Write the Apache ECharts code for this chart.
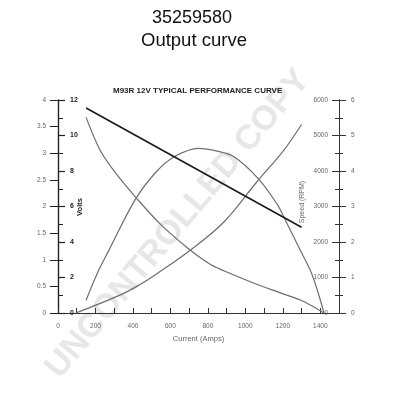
<!DOCTYPE html>
<html><head><meta charset="utf-8">
<script src="https://cdn.jsdelivr.net/npm/echarts@6/dist/echarts.min.js"></script>
<style>html,body{margin:0;padding:0;background:#fff}#c{width:400px;height:400px}</style>
</head><body><div id="c"></div>
<script>
// Data: [current (A), value]
const voltsData  = [[150, 11.55], [1300, 4.83]];
const speedData  = [[150, 5510], [225, 4585], [305, 3960], [415, 3260], [545, 2510], [690, 1840], [810, 1380], [885, 1190], [1060, 810], [1180, 580], [1300, 350], [1420, 0]];
const powerData  = [[150, 0.36], [210, 1.12], [270, 1.75], [413, 3.20], [520, 3.95], [620, 4.40], [750, 4.64], [850, 4.56], [940, 4.40], [1070, 3.78], [1168, 3.08], [1206, 2.70], [1290, 1.80], [1355, 1.10], [1420, 0]];
const torqueData = [[95, 0], [340, 0.35], [440, 0.54], [520, 0.72], [706, 1.18], [883, 1.70], [1061, 2.46], [1206, 3.06], [1300, 3.54]];

const titleMain = '35259580';
const titleSub = 'Output curve';
const chartTitle = 'M93R 12V TYPICAL PERFORMANCE CURVE';
const voltsName = 'Volts';
const speedName = 'Speed (RPM)';
const currentName = 'Current (Amps)';
const watermark = 'UNCONTROLLED COPY';

const FF = '"Liberation Sans", Arial, sans-serif';
const chart = echarts.init(document.getElementById('c'), null, {renderer: 'canvas'});
const gray = '#666';
const plain = v => String(v);
chart.setOption({
  animation: false,
  backgroundColor: '#fff',
  title: [
    {text: titleMain, left: 147, top: 4, textStyle: {fontFamily: FF, fontSize: 18, fontWeight: 'normal', color: '#111'}},
    {text: titleSub, left: 136, top: 26, textStyle: {fontFamily: FF, fontSize: 18.5, fontWeight: 'normal', color: '#111'}},
    {text: chartTitle, left: 108, top: 82, textStyle: {fontFamily: FF, fontSize: 8, fontWeight: 'bold', color: '#222'}}
  ],
  graphic: [
    {type: 'text', x: 178, y: 224, rotation: 50 * Math.PI / 180, z: -10,
     style: {text: watermark, fontFamily: FF, fontSize: 34, fontWeight: 'bold', fill: '#e7e7e7', textAlign: 'center', textVerticalAlign: 'middle'}},
    {type: 'text', x: 80, y: 207, rotation: Math.PI / 2, z: 5,
     style: {text: voltsName, fontFamily: FF, fontSize: 7.5, fontWeight: 'bold', fill: '#222', textAlign: 'center', textVerticalAlign: 'middle'}},
    {type: 'text', x: 302, y: 202, rotation: Math.PI / 2, z: 5,
     style: {text: speedName, fontFamily: FF, fontSize: 7, fill: gray, textAlign: 'center', textVerticalAlign: 'middle'}}
  ],
  grid: {left: 58, right: 61, top: 100, bottom: 87},
  xAxis: {
    type: 'value', min: 0, max: 1500, interval: 200,
    name: currentName, nameLocation: 'middle', nameGap: 21,
    nameTextStyle: {fontFamily: FF, fontSize: 7.5, color: gray},
    axisLine: {lineStyle: {color: '#333'}},
    axisTick: {inside: true, length: 5, lineStyle: {color: '#333'}},
    minorTick: {show: true, splitNumber: 2, length: 5, lineStyle: {color: '#333'}},
    axisLabel: {fontFamily: FF, fontSize: 6.5, color: gray, margin: 10, showMaxLabel: false, formatter: plain},
    splitLine: {show: false}
  },
  yAxis: [
    {type: 'value', min: 0, max: 4, interval: 0.5, position: 'left',
     axisLine: {show: true, lineStyle: {color: '#222', width: 1.2}},
     axisTick: {show: true, length: 8, lineStyle: {color: '#222'}},
     axisLabel: {fontFamily: FF, fontSize: 6.5, color: gray, margin: 12, formatter: plain},
     splitLine: {show: false}},
    {type: 'value', min: 0, max: 12, interval: 2, position: 'left',
     axisLine: {show: true, lineStyle: {color: '#222', width: 1.2}},
     axisTick: {show: true, inside: true, length: 7, lineStyle: {color: '#222', width: 1.2}},
     minorTick: {show: true, splitNumber: 2, length: 5, lineStyle: {color: '#222'}},
     axisLabel: {inside: true, fontFamily: FF, fontSize: 7, fontWeight: 'bold', color: '#222', margin: 12, formatter: plain},
     splitLine: {show: false}},
    {type: 'value', min: 0, max: 6000, interval: 1000, position: 'right',
     axisLine: {show: true, lineStyle: {color: '#333'}},
     axisTick: {show: true, inside: true, length: 7, lineStyle: {color: '#333'}},
     minorTick: {show: true, splitNumber: 2, length: 4, lineStyle: {color: '#333'}},
     axisLabel: {inside: true, fontFamily: FF, fontSize: 6.5, color: gray, margin: 11, formatter: plain},
     splitLine: {show: false}},
    {type: 'value', min: 0, max: 6, interval: 1, position: 'right',
     axisLine: {show: true, lineStyle: {color: '#333'}},
     axisTick: {show: true, length: 7, lineStyle: {color: '#333'}},
     minorTick: {show: true, splitNumber: 2, length: 4, lineStyle: {color: '#333'}},
     axisLabel: {fontFamily: FF, fontSize: 6.5, color: gray, margin: 12, formatter: plain},
     splitLine: {show: false}}
  ],
  series: [
    {type: 'line', name: 'Volts', yAxisIndex: 1, data: voltsData, showSymbol: false, lineStyle: {color: '#1a1a1a', width: 1.6}, z: 4},
    {type: 'line', name: 'Speed', yAxisIndex: 2, data: speedData, smooth: 0.35, showSymbol: false, lineStyle: {color: '#6e6e6e', width: 1.2}},
    {type: 'line', name: 'Power', yAxisIndex: 3, data: powerData, smooth: 0.35, showSymbol: false, lineStyle: {color: '#6e6e6e', width: 1.2}},
    {type: 'line', name: 'Torque', yAxisIndex: 0, data: torqueData, smooth: 0.35, showSymbol: false, lineStyle: {color: '#6e6e6e', width: 1.2}}
  ]
});
</script></body></html>
